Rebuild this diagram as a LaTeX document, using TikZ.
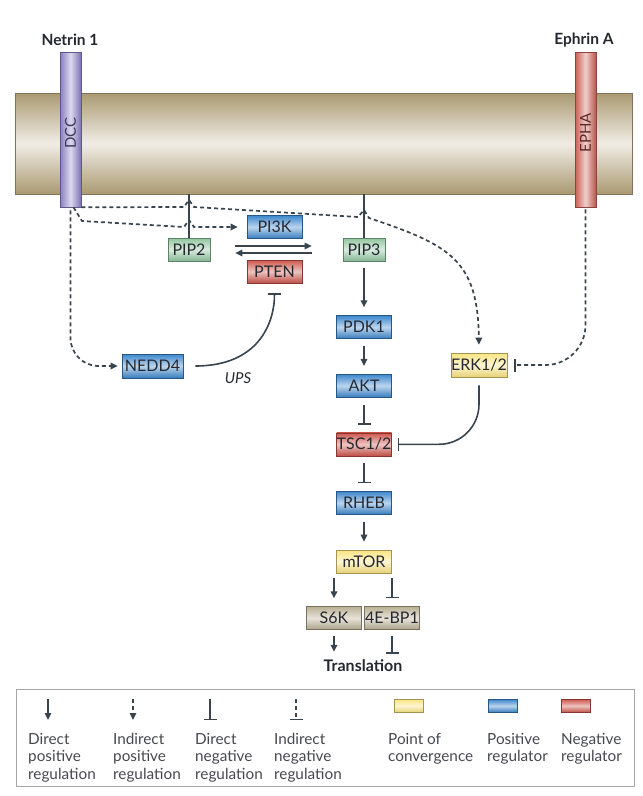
\documentclass[tikz,border=0pt]{standalone}
\usepackage{fontspec}
\setmainfont{Lato}
\usetikzlibrary{arrows.meta, positioning, calc}

\definecolor{posblue}{RGB}{60,135,205}
\definecolor{negred}{RGB}{206,86,76}
\definecolor{pipgreen}{RGB}{146,198,160}
\definecolor{convyellow}{RGB}{250,228,128}
\definecolor{efftan}{RGB}{186,176,148}
\definecolor{membtan}{RGB}{170,154,114}
\definecolor{dccpurple}{RGB}{138,126,196}
\definecolor{ephared}{RGB}{204,94,84}
\definecolor{linegray}{RGB}{56,68,78}
\definecolor{txtdark}{RGB}{38,40,48}

\begin{document}
\begin{tikzpicture}[x=1pt, y=-1pt, node distance = 35pt,
mol/.style = {% coloured molecule box
  rectangle, draw=#1!65!black, line width=0.6pt, top color=#1, bottom color=#1!92!black,
  middle color=#1!35!white, minimum width=55pt, minimum height=23pt, inner sep=0pt,
  text=txtdark, font=\fontsize{16}{19}\selectfont},
posreg/.style = {mol=posblue}, negreg/.style = {mol=negred},
pip/.style = {mol=pipgreen, minimum width=42pt},
conv/.style = {mol=convyellow}, eff/.style = {mol=efftan},
rec/.style = {% receptor bar
  rectangle, draw=#1!70!black, line width=0.6pt, left color=#1, right color=#1!90!black,
  middle color=#1!30!white, minimum width=21pt, minimum height=155pt, inner sep=0pt,
  text=#1!45!black, font=\fontsize{15}{18}\selectfont},
ttl/.style = {font=\fontsize{15.5}{18}\selectfont\bfseries, text=txtdark, inner sep=0pt},
act/.style = {draw=linegray, line width=1.6pt, -{Triangle[length=7pt,width=6.5pt]},
  shorten <=7pt, shorten >=8pt},
inh/.style = {draw=linegray, line width=1.6pt, -{Bar[width=13pt]},
  shorten <=7pt, shorten >=8pt},
ind/.style = {draw=linegray, line width=1.7pt, dash pattern=on 4pt off 3pt},
iact/.style = {ind, -{Triangle[length=7pt,width=6.5pt]}},
iinh/.style = {ind, -{Bar[width=13pt]}},
link/.style = {draw=linegray, line width=1.6pt},
legtxt/.style = {font=\fontsize{15.3}{17.5}\selectfont, text=txtdark!85!white,
  align=left, anchor=north west, inner sep=0pt}]
\useasboundingbox (0,0) rectangle (643,796);

% membrane and receptors
\node[rectangle, draw=membtan!75!black, line width=0.7pt, top color=membtan,
  bottom color=membtan, middle color=membtan!18!white,
  minimum width=617pt, minimum height=101pt] (memb) at (323.5,143.5) {};
\node[rec=dccpurple] (DCC) at (70.5,129.5) {\rotatebox{90}{DCC\hspace{7pt}}};
\node[rec=ephared] (EPHA) at (585.5,129.5) {\rotatebox{90}{EPHA\hspace{7pt}}};
\node[ttl] (netrin) at (70,40) {Netrin 1};
\node[ttl] (ephrin) at (584,40) {Ephrin A};

% molecules
\node[pip] (PIP2) at (189,249.5) {PIP2};
\node[pip] (PIP3) at (364,249.5) {PIP3};
\node[posreg] (PI3K) at (274.5,227) {PI3K};
\node[negreg] (PTEN) at (274.5,271.5) {PTEN};
\node[posreg, minimum width=61pt, minimum height=24pt] (NEDD4) at (152.5,366) {NEDD4};
\node[conv, minimum height=24pt] (ERK) at (479,365) {ERK1/2};
\node[posreg, below=54pt of PIP3] (PDK1) {PDK1};
\node[posreg, below=of PDK1] (AKT) {AKT};
\node[negreg, below=of AKT] (TSC) {TSC1/2};
\node[posreg, below=of TSC] (RHEB) {RHEB};
\node[conv, below=of RHEB] (mTOR) {mTOR};
\node[eff, below=33pt of mTOR, xshift=-30pt] (S6K) {S6K};
\node[eff, below=33pt of mTOR, xshift=28pt] (EBP) {4E-BP1};
\node[ttl, font=\fontsize{16}{19}\selectfont\bfseries] (trans) at (363,666) {Translation};
\node[font=\fontsize{15}{18}\selectfont\itshape, text=txtdark] (ups) at (238,378) {UPS};

% links to the membrane
\draw[link] (PIP2.north) -- (PIP2.north |- memb.south);
\draw[link] (PIP3.north) -- (PIP3.north |- memb.south);
% PI3K / PTEN
\draw[act, shorten <=25pt, shorten >=31pt] ([yshift=3.5pt]PIP2.east) -- ([yshift=3.5pt]PIP3.west);
\draw[act, shorten <=31pt, shorten >=25pt] ([yshift=-3.5pt]PIP3.west) -- ([yshift=-3.5pt]PIP2.east);
% main pathway
\draw[act] (PIP3) -- (PDK1);
\draw[act] (PDK1) -- (AKT);
\draw[inh] (AKT) -- (TSC);
\draw[inh] (TSC) -- (RHEB);
\draw[act] (RHEB) -- (mTOR);
\draw[act, shorten <=5pt] (mTOR.south -| S6K) -- (S6K);
\draw[inh, shorten <=5pt] (mTOR.south -| EBP) -- (EBP);
\draw[act, shorten <=6pt] (S6K) -- (S6K |- trans.north);
\draw[inh, shorten <=6pt, shorten >=6pt] (EBP) -- (EBP |- trans.north);
% side branches
\draw[inh, shorten <=12pt, shorten >=10pt] (NEDD4.east) .. controls +(75,0) and +(0,40) .. (PTEN.south);
\draw[inh, rounded corners=40pt, shorten <=8pt, shorten >=6pt] (ERK.south) |- (TSC.east);
\draw[iinh, rounded corners=40pt, shorten <=2pt, shorten >=7pt] (EPHA.south) |- (ERK.east);
\draw[iact, rounded corners=28pt, shorten <=3pt, shorten >=4pt] (DCC.south) |- (NEDD4.west);
\draw[iact, shorten >=9pt] ([xshift=3pt]DCC.south) -- (82,221) -- (184,227) -- (189,220)
  -- (194,227) -- (PI3K.west);
\draw[iact, shorten >=8pt] (DCC.south east) -- (184,207) -- (189,200) -- (194,207)
  -- (358,217) -- (364,210) -- (369,218) .. controls (450,245) and (478,260) .. (ERK.north);

% key
\node[draw=black!35, line width=0.8pt, minimum width=618pt, minimum height=97pt,
  inner sep=0pt] (legend) at (325,737.5) {};
\foreach \x/\sty in {48/act, 133/iact, 210/inh, 296/iinh}
  \draw[\sty, line width=1.3pt, shorten <=0pt, shorten >=0pt] (\x,699) -- (\x,720);
\foreach \x/\c in {394/convyellow, 488/posblue, 561/negred}
  \node[mol=\c, minimum width=29pt, minimum height=13pt, anchor=north west] at (\x,699) {};
\foreach \x/\txt in {28/{Direct\\positive\\regulation}, 113/{Indirect\\positive\\regulation},
  195/{Direct\\negative\\regulation}, 274/{Indirect\\negative\\regulation},
  388/{Point of\\convergence}, 487/{Positive\\regulator}, 561/{Negative\\regulator}}
  \node[legtxt] at (\x,733) {\txt};
\end{tikzpicture}
\end{document}
